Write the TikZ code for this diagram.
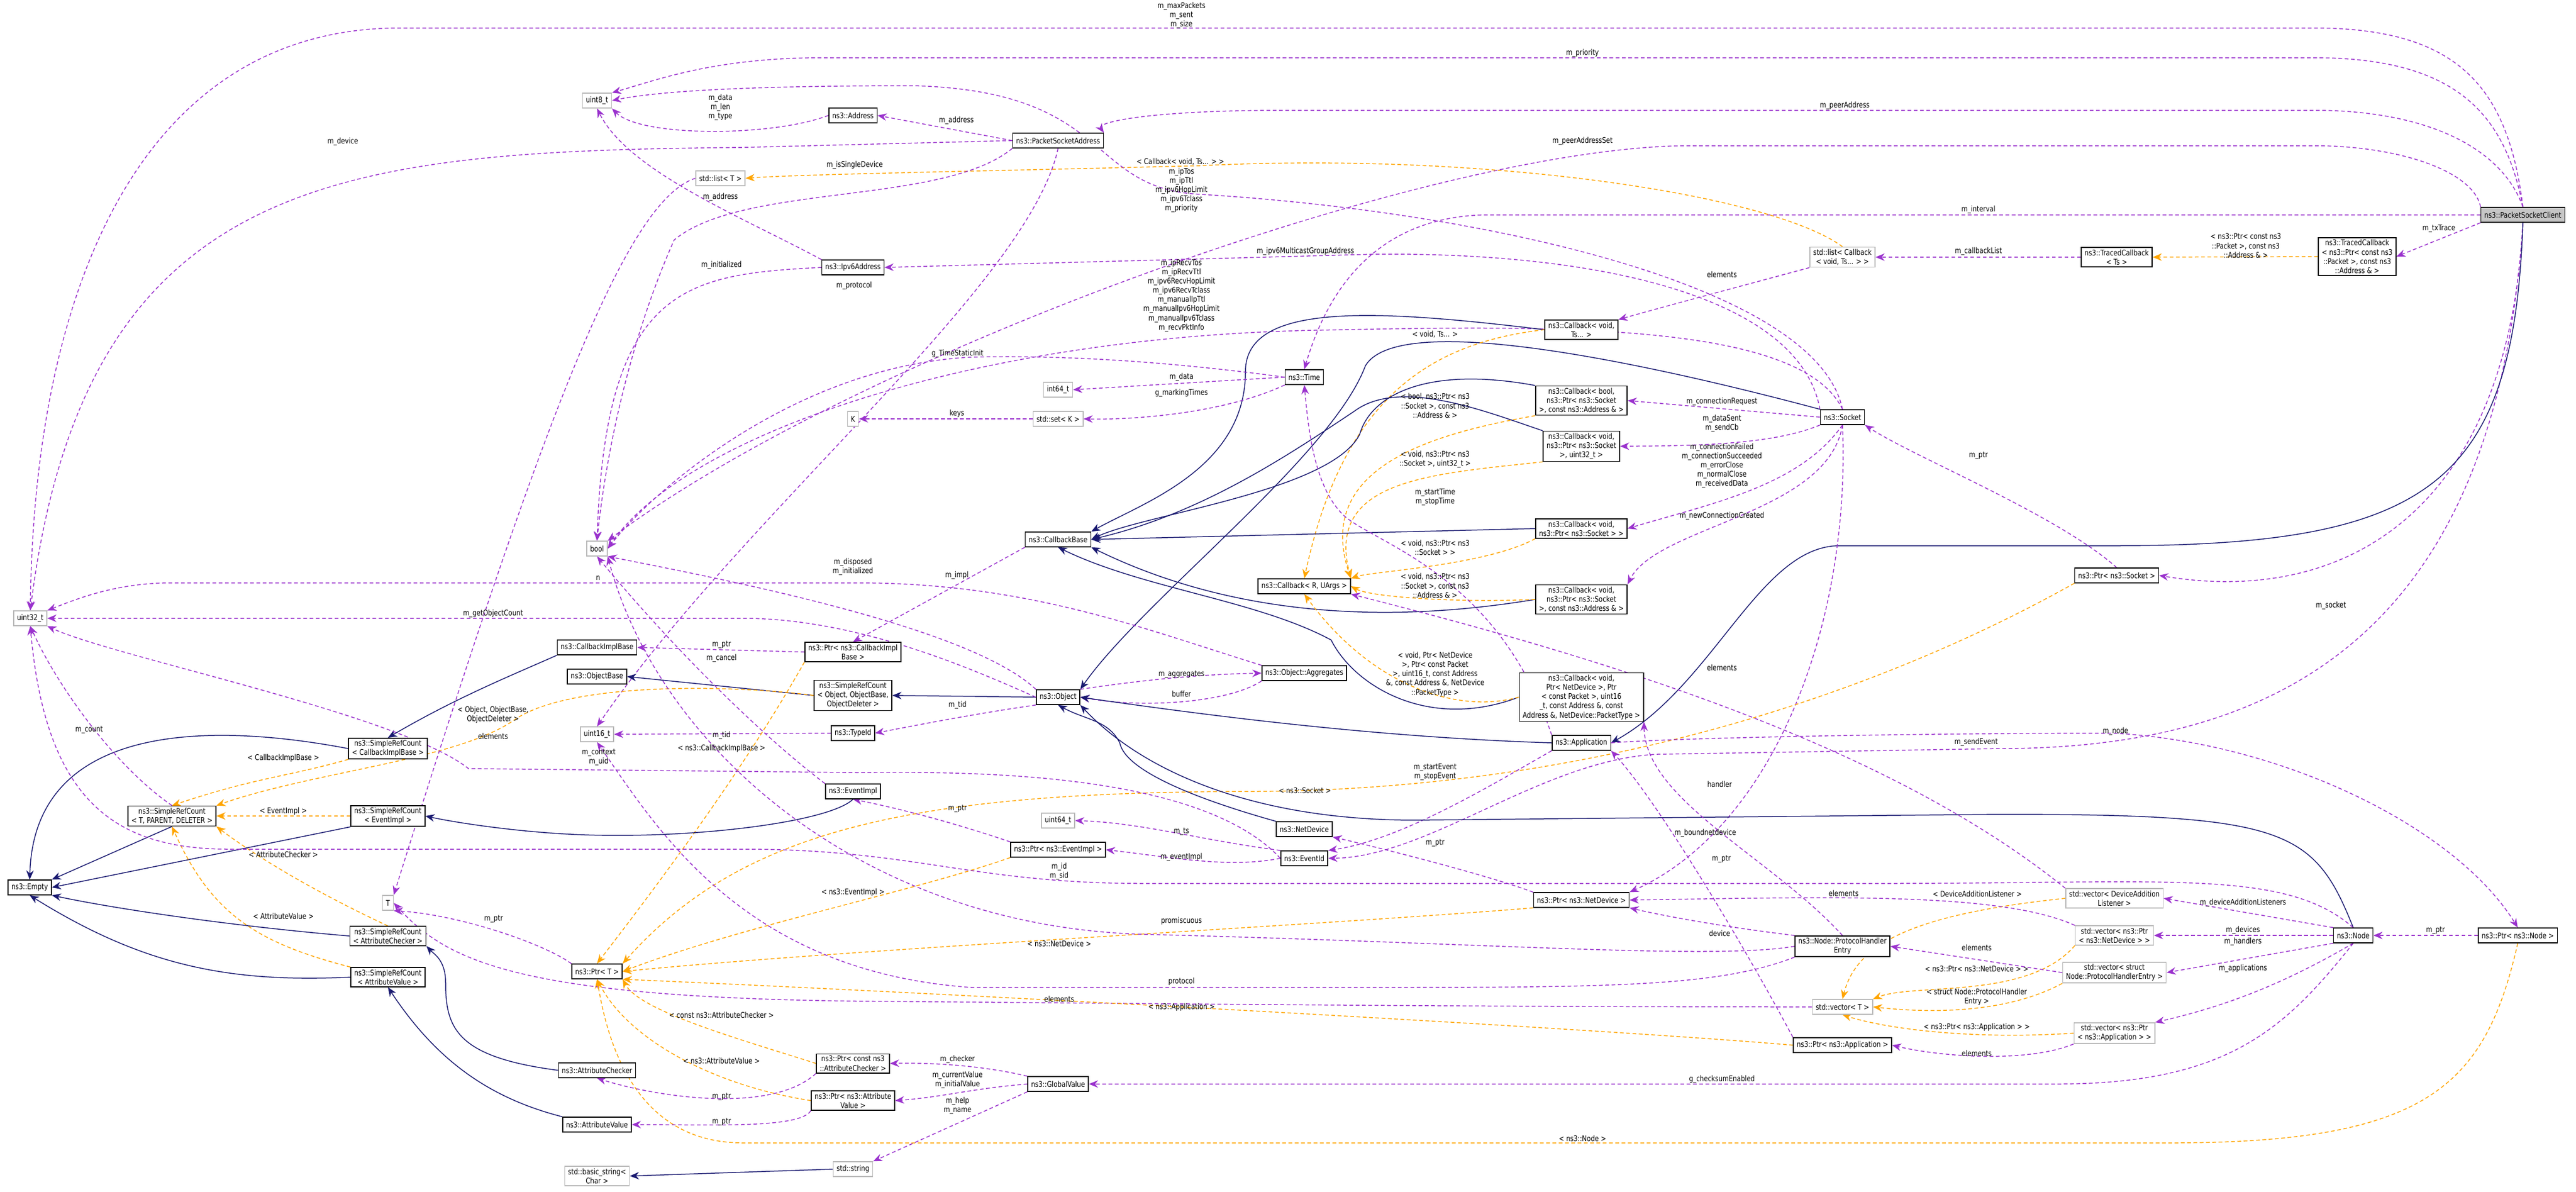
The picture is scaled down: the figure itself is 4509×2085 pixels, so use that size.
\documentclass[tikz,border=0pt]{standalone}
\usepackage{fontspec}
\setmainfont{DejaVu Sans}[FakeStretch=0.82]
\usetikzlibrary{arrows.meta}
\definecolor{dorch}{HTML}{9A32CD}
\definecolor{navyb}{HTML}{191970}
\definecolor{orng}{HTML}{FFA500}
\pgfdeclarelayer{bg}\pgfsetlayers{bg,main}
\newcommand{\fs}{\fontsize{7.8}{9.2}\selectfont}
\tikzset{
 cls/.style={draw=black, line width=0.3mm, rectangle, fill=white, inner xsep=1.2mm, inner ysep=0.7mm, align=center, minimum height=5.2mm, font=\fs},
 ext/.style={cls, draw=gray!55},
 lb/.style={font=\fs, align=center, inner sep=0.5pt},
 tip/.style={-{Stealth[length=3.2mm,width=2.6mm]}},
 use/.style={tip, draw=dorch, line width=0.3mm, dash pattern=on 1.3mm off 0.9mm},
 inh/.style={tip, draw=navyb, line width=0.3mm},
 tpl/.style={tip, draw=orng, line width=0.3mm, dash pattern=on 1.3mm off 0.9mm}
}
\begin{document}
\begin{tikzpicture}[x=0.2mm,y=-0.2mm]
\useasboundingbox (0,0) rectangle (4509,2085);
% ---------- nodes ----------
\node[cls,fill=gray!45] (psc) at (4416,376) {ns3::PacketSocketClient};
\node[cls] (tcpkt) at (4126,449) {ns3::TracedCallback\\< ns3::Ptr< const ns3\\::Packet >, const ns3\\::Address \& >};
\node[cls] (tcts) at (3705,450) {ns3::TracedCallback\\< Ts >};
\node[ext] (lcb) at (3225,450) {std::list< Callback\\< void, Ts... > >};
\node[cls] (cbts) at (2768,577) {ns3::Callback< void,\\ Ts... >};
\node[cls] (time) at (2283,660) {ns3::Time};
\node[cls] (cbbool) at (2768,701) {ns3::Callback< bool,\\ ns3::Ptr< ns3::Socket\\ >, const ns3::Address \& >};
\node[cls] (cbu32) at (2768,781) {ns3::Callback< void,\\ ns3::Ptr< ns3::Socket\\ >, uint32\_t >};
\node[cls] (socket) at (3225,730) {ns3::Socket};
\node[cls] (cbsock) at (2768,925) {ns3::Callback< void,\\ ns3::Ptr< ns3::Socket > >};
\node[cls] (cbr) at (2283,1026) {ns3::Callback< R, UArgs >};
\node[cls] (cbaddr) at (2768,1049) {ns3::Callback< void,\\ ns3::Ptr< ns3::Socket\\ >, const ns3::Address \& >};
\node[cls] (ptrsock) at (3705,1007) {ns3::Ptr< ns3::Socket >};
\node[ext] (uint8) at (1045,176) {uint8\_t};
\node[cls] (address) at (1493,202) {ns3::Address};
\node[cls] (psa) at (1852,246) {ns3::PacketSocketAddress};
\node[ext] (listT) at (1261,312) {std::list< T >};
\node[cls] (ipv6) at (1493,468) {ns3::Ipv6Address};
\node[ext] (int64) at (1852,682) {int64\_t};
\node[ext] (K) at (1493,733) {K};
\node[ext] (setK) at (1852,733) {std::set< K >};
\node[cls] (cbbase) at (1852,944) {ns3::CallbackBase};
\node[ext] (bool) at (1045,960) {bool};
\node[ext] (uint32) at (53,1082) {uint32\_t};
\node[cls] (cbimpl) at (1045,1133) {ns3::CallbackImplBase};
\node[cls] (ptrcbimpl) at (1493,1141) {ns3::Ptr< ns3::CallbackImpl\\Base >};
\node[cls] (aggr) at (2283,1178) {ns3::Object::Aggregates};
\node[cls] (objbase) at (1045,1184) {ns3::ObjectBase};
\node[cls] (srcobj) at (1493,1217) {ns3::SimpleRefCount\\< Object, ObjectBase,\\ ObjectDeleter >};
\node[cls] (object) at (1852,1220) {ns3::Object};
\node[cls] (cbnd) at (2768,1220) {ns3::Callback< void,\\ Ptr< NetDevice >, Ptr\\< const Packet >, uint16\\\_t, const Address \&, const\\ Address \&, NetDevice::PacketType >};
\node[cls] (typeid) at (1493,1283) {ns3::TypeId};
\node[ext] (uint16) at (1045,1285) {uint16\_t};
\node[cls] (app) at (2768,1300) {ns3::Application};
\node[cls] (srccib) at (679,1310) {ns3::SimpleRefCount\\< CallbackImplBase >};
\node[cls] (eventimpl) at (1493,1385) {ns3::EventImpl};
\node[cls] (srcT) at (301,1428) {ns3::SimpleRefCount\\< T, PARENT, DELETER >};
\node[cls] (srcei) at (679,1428) {ns3::SimpleRefCount\\< EventImpl >};
\node[ext] (uint64) at (1852,1436) {uint64\_t};
\node[cls] (netdev) at (2283,1451) {ns3::NetDevice};
\node[cls] (ptrei) at (1852,1487) {ns3::Ptr< ns3::EventImpl >};
\node[cls] (eventid) at (2283,1502) {ns3::EventId};
\node[cls] (empty) at (52,1553) {ns3::Empty};
\node[ext] (vdal) at (3701,1572) {std::vector< DeviceAddition\\Listener >};
\node[ext] (T) at (679,1580) {T};
\node[cls] (ptrnd) at (2768,1575) {ns3::Ptr< ns3::NetDevice >};
\node[cls] (node) at (4119,1637) {ns3::Node};
\node[cls] (ptrnode) at (4407,1637) {ns3::Ptr< ns3::Node >};
\node[ext] (vnd) at (3701,1637) {std::vector< ns3::Ptr\\< ns3::NetDevice > >};
\node[cls] (srcac) at (679,1638) {ns3::SimpleRefCount\\< AttributeChecker >};
\node[cls] (phe) at (3225,1656) {ns3::Node::ProtocolHandler\\Entry};
\node[cls] (ptrT) at (1045,1700) {ns3::Ptr< T >};
\node[ext] (vphe) at (3701,1702) {std::vector< struct\\ Node::ProtocolHandlerEntry >};
\node[cls] (srcav) at (679,1710) {ns3::SimpleRefCount\\< AttributeValue >};
\node[ext] (vT) at (3225,1762) {std::vector< T >};
\node[ext] (vapp) at (3701,1808) {std::vector< ns3::Ptr\\< ns3::Application > >};
\node[cls] (ptrapp) at (3225,1829) {ns3::Ptr< ns3::Application >};
\node[cls] (ptrcac) at (1493,1861) {ns3::Ptr< const ns3\\::AttributeChecker >};
\node[cls] (acheck) at (1045,1873) {ns3::AttributeChecker};
\node[cls] (gv) at (1852,1897) {ns3::GlobalValue};
\node[cls] (ptrav) at (1493,1926) {ns3::Ptr< ns3::Attribute\\Value >};
\node[cls] (aval) at (1045,1968) {ns3::AttributeValue};
\node[ext] (string) at (1493,2046) {std::string};
\node[ext] (bstring) at (1045,2058) {std::basic\_string<\\ Char >};
% ---------- edges ----------
\begin{pgfonlayer}{bg}
% PacketSocketClient members
\draw[use] (psc.north) .. controls (4390,150) and (4300,49) .. (4050,49) -- (700,49) .. controls (250,49) and (60,500) .. (uint32.north);
\draw[use] (psc.north) .. controls (4385,200) and (4300,101) .. (4050,101) -- (1440,101) .. controls (1250,101) and (1150,140) .. (uint8.north east);
\draw[use] (psc.north) .. controls (4380,260) and (4250,193) .. (4050,193) -- (2250,193) .. controls (2000,193) and (1920,215) .. (psa.north east);
\draw[use] (psc.north west) .. controls (4330,300) and (4200,255) .. (4050,255) -- (2950,255) .. controls (2500,260) and (1500,620) .. (bool.north east);
\draw[use] (psc.west) -- (2600,376) .. controls (2400,380) and (2320,520) .. (time.north);
\draw[use] (psc.south west) -- (tcpkt.east);
\draw[use] (psc.south) .. controls (4390,900) and (4100,1060) .. (ptrsock.east);
\draw[use] (psc.south) .. controls (4370,1100) and (4000,1310) .. (3500,1310) -- (2900,1320) .. controls (2700,1330) and (2500,1500) .. (eventid.east);
\draw[inh] (psc.south) .. controls (4400,850) and (4250,955) .. (3700,955) -- (3220,955) .. controls (3080,955) and (3000,1200) .. (app.east);
% traced callbacks
\draw[tpl] (tcpkt.west) -- (tcts.east);
\draw[use] (tcts.west) -- (lcb.east);
\draw[tpl] (lcb.north) .. controls (3100,340) and (2600,265) .. (2100,290) .. controls (1700,300) and (1400,305) .. (listT.east);
\draw[use] (lcb.south west) .. controls (3050,500) and (2900,540) .. (cbts.north east);
% socket
\draw[use] (socket.north) .. controls (3180,500) and (2600,370) .. (2100,340) .. controls (1900,330) and (1950,160) .. (1600,150) .. controls (1300,150) and (1150,160) .. (uint8.east);
\draw[use] (socket.north west) .. controls (3150,520) and (2800,440) .. (2400,445) -- (ipv6.east);
\draw[use] (socket.north) .. controls (3150,560) and (2700,570) .. (2300,578) .. controls (1700,590) and (1200,760) .. (bool.east);
\draw[use] (socket.west) -- (cbbool.east);
\draw[use] (socket.south west) .. controls (3100,780) and (2950,780) .. (cbu32.east);
\draw[use] (socket.south) .. controls (3150,850) and (3000,880) .. (cbsock.east);
\draw[use] (socket.south) .. controls (3200,900) and (2900,920) .. (cbaddr.north east);
\draw[inh] (socket.north west) .. controls (2900,640) and (2450,540) .. (2390,640) .. controls (2330,800) and (2000,1050) .. (object.north east);
\draw[use] (socket.south) .. controls (3240,1100) and (3100,1450) .. (ptrnd.north east);
\draw[use] (ptrsock.north) .. controls (3600,900) and (3350,800) .. (socket.south east);
\draw[tpl] (ptrsock.south west) .. controls (3400,1150) and (2900,1380) .. (2200,1385) .. controls (1600,1385) and (1300,1450) .. (ptrT.north east);
% callbacks
\draw[inh] (cbts.west) .. controls (2400,540) and (2180,530) .. (2180,650) .. controls (2180,820) and (2000,880) .. (cbbase.north east);
\draw[tpl] (cbts.west) .. controls (2500,600) and (2350,700) .. (cbr.north);
\draw[inh] (cbbool.north west) .. controls (2500,640) and (2400,690) .. (2380,760) .. controls (2330,860) and (2000,900) .. (cbbase.east);
\draw[tpl] (cbbool.south west) .. controls (2500,760) and (2300,820) .. (cbr.north east);
\draw[inh] (cbu32.north west) .. controls (2600,720) and (2450,660) .. (2370,720) .. controls (2250,800) and (2100,900) .. (cbbase.east);
\draw[tpl] (cbu32.south west) .. controls (2500,830) and (2320,840) .. (cbr.north east);
\draw[inh] (cbsock.west) -- (cbbase.east);
\draw[tpl] (cbsock.south west) .. controls (2600,990) and (2400,1000) .. (cbr.north east);
\draw[inh] (cbaddr.west) .. controls (2500,1080) and (2200,1100) .. (cbbase.south east);
\draw[tpl] (cbaddr.west) .. controls (2550,1055) and (2400,1045) .. (cbr.east);
\draw[inh] (cbnd.west) .. controls (2500,1280) and (2370,1200) .. (2330,1120) .. controls (2200,1050) and (2000,1030) .. (cbbase.south);
\draw[tpl] (cbnd.west) .. controls (2550,1250) and (2400,1200) .. (cbr.south);
\draw[use] (cbbase.south west) -- (ptrcbimpl.north);
% addresses, time
\draw[use] (address.west) .. controls (1350,240) and (1120,240) .. (uint8.south east);
\draw[use] (psa.west) -- (address.east);
\draw[use] (psa.west) -- (1300,258) .. controls (600,265) and (150,300) .. (uint32.north);
\draw[use] (psa.south west) .. controls (1650,360) and (1300,320) .. (1180,420) .. controls (1100,600) and (1060,800) .. (bool.north);
\draw[use] (psa.south) .. controls (1800,500) and (1300,900) .. (uint16.north);
\draw[use] (ipv6.north west) .. controls (1300,380) and (1100,300) .. (uint8.south);
\draw[use] (ipv6.west) .. controls (1200,480) and (1060,500) .. (bool.north);
\draw[use] (listT.west) .. controls (1100,350) and (960,700) .. (T.north east);
\draw[use] (time.west) -- (int64.east);
\draw[use] (time.south west) .. controls (2150,720) and (2000,735) .. (setK.east);
\draw[use] (time.west) .. controls (2100,640) and (1900,620) .. (1700,625) .. controls (1400,640) and (1150,850) .. (bool.east);
\draw[use] (setK.west) -- (K.east);
% object family
\draw[inh] (object.west) -- (srcobj.east);
\draw[use] (object.north east) .. controls (2000,1190) and (2100,1180) .. (aggr.west);
\draw[use] (aggr.south west) .. controls (2150,1230) and (2000,1240) .. (object.east);
\draw[use] (object.south west) .. controls (1700,1250) and (1600,1270) .. (typeid.east);
\draw[use] (object.north west) .. controls (1700,1100) and (1300,1020) .. (bool.south east);
\draw[use] (object.west) .. controls (1700,1170) and (1500,1082) .. (1300,1082) -- (uint32.east);
\draw[use] (aggr.north west) .. controls (2000,1100) and (1800,1020) .. (1500,1020) -- (300,1020) .. controls (200,1020) and (130,1050) .. (uint32.north east);
\draw[inh] (srcobj.west) -- (objbase.east);
\draw[tpl] (srcobj.west) .. controls (1300,1200) and (1000,1190) .. (900,1260) .. controls (800,1330) and (550,1350) .. (srcT.north east);
\draw[use] (typeid.west) -- (uint16.east);
\draw[use] (ptrcbimpl.west) -- (cbimpl.east);
\draw[tpl] (ptrcbimpl.south west) .. controls (1300,1350) and (1150,1550) .. (ptrT.north);
\draw[inh] (cbimpl.south west) .. controls (900,1180) and (800,1220) .. (srccib.north);
\draw[tpl] (srccib.south west) .. controls (500,1360) and (450,1360) .. (srcT.north);
\draw[inh] (srccib.west) .. controls (400,1270) and (60,1250) .. (empty.north);
\draw[inh] (srcT.south) -- (empty.north east);
\draw[use] (srcT.north) .. controls (200,1340) and (100,1200) .. (uint32.south);
\draw[tpl] (srcei.west) -- (srcT.east);
\draw[inh] (srcei.south west) -- (empty.east);
\draw[inh] (eventimpl.south) .. controls (1450,1440) and (1200,1470) .. (1000,1460) .. controls (900,1455) and (800,1440) .. (srcei.east);
\draw[use] (eventimpl.north west) .. controls (1350,1300) and (1200,1160) .. (bool.south);
\draw[tpl] (srcac.north) .. controls (550,1560) and (450,1500) .. (srcT.south east);
\draw[inh] (srcac.west) .. controls (400,1620) and (200,1590) .. (empty.south east);
\draw[tpl] (srcav.north west) .. controls (450,1650) and (370,1600) .. (srcT.south);
\draw[inh] (srcav.west) .. controls (400,1720) and (250,1690) .. (empty.south);
\draw[use] (eventid.west) .. controls (2100,1350) and (1700,1350) .. (1500,1352) -- (820,1345) .. controls (700,1250) and (200,1150) .. (uint32.south east);
\draw[use] (eventid.north west) .. controls (2100,1470) and (2000,1440) .. (uint64.east);
\draw[use] (eventid.west) .. controls (2150,1520) and (2050,1500) .. (ptrei.east);
\draw[use] (ptrei.north west) .. controls (1700,1450) and (1600,1420) .. (eventimpl.south);
\draw[tpl] (ptrei.south west) .. controls (1600,1560) and (1300,1620) .. (ptrT.east);
\draw[inh] (netdev.north west) .. controls (2100,1400) and (1970,1350) .. (1960,1300) .. controls (1940,1260) and (1900,1260) .. (object.south);
\draw[use] (ptrnd.north west) .. controls (2600,1530) and (2400,1480) .. (netdev.south east);
\draw[tpl] (ptrnd.south west) .. controls (2300,1620) and (1500,1660) .. (ptrT.east);
% application
\draw[inh] (app.west) .. controls (2400,1290) and (2100,1250) .. (object.east);
\draw[use] (app.south west) .. controls (2600,1380) and (2450,1470) .. (eventid.north east);
\draw[use] (app.north west) .. controls (2620,1000) and (2400,950) .. (2350,900) .. controls (2300,850) and (2290,750) .. (time.south);
\draw[use] (app.east) .. controls (2950,1290) and (3400,1283) .. (3700,1283) .. controls (4000,1300) and (4300,1450) .. (ptrnode.north);
% node
\draw[inh] (node.north) .. controls (4050,1450) and (4000,1425) .. (3500,1425) -- (2500,1435) .. controls (2200,1440) and (2000,1350) .. (object.south east);
\draw[use] (node.north west) -- (vdal.east);
\draw[use] (node.west) -- (vnd.east);
\draw[use] (node.south west) -- (vphe.east);
\draw[use] (node.south) .. controls (4000,1720) and (3900,1760) .. (vapp.north east);
\draw[use] (node.north) .. controls (4000,1520) and (3800,1546) .. (3300,1546) -- (2000,1546) .. controls (1700,1546) and (1600,1486) .. (1300,1486) -- (400,1486) .. controls (200,1486) and (80,1400) .. (uint32.south);
\draw[use] (node.south) .. controls (4000,1800) and (3900,1897) .. (3600,1897) -- (gv.east);
\draw[use] (ptrnode.west) -- (node.east);
\draw[tpl] (ptrnode.south) .. controls (4350,1900) and (4250,2000) .. (3800,2000) -- (1300,2000) .. controls (1100,2000) and (1060,1800) .. (ptrT.south);
% protocol handler and vectors
\draw[use] (phe.north west) .. controls (3000,1620) and (2900,1600) .. (ptrnd.south east);
\draw[use] (phe.west) .. controls (3000,1680) and (2600,1650) .. (2000,1635) .. controls (1500,1620) and (1150,1300) .. (bool.south east);
\draw[use] (phe.south west) .. controls (3000,1730) and (2800,1728) .. (2300,1728) -- (1700,1728) .. controls (1300,1700) and (1150,1450) .. (uint16.south);
\draw[use] (phe.north) .. controls (3100,1500) and (2880,1400) .. (cbnd.south east);
\draw[use] (vdal.north west) .. controls (3300,1300) and (2800,1150) .. (cbr.south east);
\draw[tpl] (vdal.west) .. controls (3350,1600) and (3250,1650) .. (vT.north);
\draw[use] (vnd.north west) .. controls (3500,1560) and (3200,1570) .. (ptrnd.east);
\draw[tpl] (vnd.south west) .. controls (3550,1750) and (3350,1720) .. (vT.north east);
\draw[use] (vphe.west) -- (phe.east);
\draw[tpl] (vphe.south west) .. controls (3500,1780) and (3350,1770) .. (vT.east);
\draw[use] (vapp.south west) .. controls (3550,1860) and (3400,1850) .. (ptrapp.east);
\draw[tpl] (vapp.west) .. controls (3450,1820) and (3300,1800) .. (vT.south);
\draw[use] (vT.west) .. controls (2500,1762) and (1900,1755) .. (1500,1752) .. controls (900,1745) and (780,1680) .. (T.east);
\draw[use] (ptrapp.north west) .. controls (3050,1650) and (2900,1400) .. (app.south east);
\draw[tpl] (ptrapp.west) .. controls (2800,1800) and (1700,1740) .. (ptrT.south east);
% pointers and attributes
\draw[use] (ptrT.north west) .. controls (950,1650) and (800,1600) .. (T.south east);
\draw[use] (ptrcac.south west) .. controls (1350,1950) and (1150,1920) .. (acheck.south);
\draw[tpl] (ptrcac.west) .. controls (1300,1820) and (1120,1770) .. (ptrT.south east);
\draw[use] (ptrav.south west) .. controls (1400,1975) and (1250,1968) .. (aval.east);
\draw[tpl] (ptrav.west) .. controls (1250,1900) and (1100,1820) .. (ptrT.south);
\draw[inh] (acheck.west) .. controls (800,1850) and (780,1800) .. (780,1720) .. controls (780,1680) and (760,1670) .. (srcac.south east);
\draw[inh] (aval.north west) .. controls (850,1920) and (760,1850) .. (srcav.south);
\draw[use] (gv.north west) .. controls (1700,1860) and (1600,1860) .. (ptrcac.east);
\draw[use] (gv.west) .. controls (1700,1905) and (1650,1920) .. (ptrav.east);
\draw[use] (gv.south west) -- (string.north east);
\draw[inh] (string.west) -- (bstring.east);
\end{pgfonlayer}
% ---------- labels ----------
\node[lb] (l1) at (2068,27) {m\_maxPackets\\m\_sent\\m\_size};
\node[lb] (l2) at (2770,93) {m\_priority};
\node[lb] (l3) at (3229,185) {m\_peerAddress};
\node[lb] (l4) at (2770,247) {m\_peerAddressSet};
\node[lb] (l5) at (3463,367) {m\_interval};
\node[lb] (l6) at (4269,400) {m\_txTrace};
\node[lb] (l7) at (3931,430) {< ns3::Ptr< const ns3\\::Packet >, const ns3\\::Address \& >};
\node[lb] (l8) at (3463,440) {m\_callbackList};
\node[lb] (l9) at (2066,283) {< Callback< void, Ts... > >};
\node[lb] (l10) at (2068,333) {m\_ipTos\\m\_ipTtl\\m\_ipv6HopLimit\\m\_ipv6Tclass\\m\_priority};
\node[lb] (l11) at (1261,188) {m\_data\\m\_len\\m\_type};
\node[lb] (l12) at (1674,211) {m\_address};
\node[lb] (l13) at (1496,289) {m\_isSingleDevice};
\node[lb] (l14) at (1261,345) {m\_address};
\node[lb] (l15) at (600,248) {m\_device};
\node[lb] (l16) at (2285,440) {m\_ipv6MulticastGroupAddress};
\node[lb] (l17) at (1263,464) {m\_initialized};
\node[lb] (l18) at (1495,500) {m\_protocol};
\node[lb] (l19) at (2068,517) {m\_ipRecvTos\\m\_ipRecvTtl\\m\_ipv6RecvHopLimit\\m\_ipv6RecvTclass\\m\_manualIpTtl\\m\_manualIpv6HopLimit\\m\_manualIpv6Tclass\\m\_recvPktInfo};
\node[lb] (l20) at (3014,480) {elements};
\node[lb] (l21) at (2512,585) {< void, Ts... >};
\node[lb] (l22) at (1676,619) {g\_TimeStaticInit};
\node[lb] (l23) at (2068,660) {m\_data};
\node[lb] (l24) at (2068,688) {g\_markingTimes};
\node[lb] (l25) at (1675,724) {keys};
\node[lb] (l26) at (3014,703) {m\_connectionRequest};
\node[lb] (l27) at (2512,710) {< bool, ns3::Ptr< ns3\\::Socket >, const ns3\\::Address \& >};
\node[lb] (l28) at (3014,741) {m\_dataSent\\m\_sendCb};
\node[lb] (l29) at (3463,797) {m\_ptr};
\node[lb] (l30) at (2512,804) {< void, ns3::Ptr< ns3\\::Socket >, uint32\_t >};
\node[lb] (l31) at (3014,815) {m\_connectionFailed\\m\_connectionSucceeded\\m\_errorClose\\m\_normalClose\\m\_receivedData};
\node[lb] (l32) at (2512,870) {m\_startTime\\m\_stopTime};
\node[lb] (l33) at (3014,903) {m\_newConnectionCreated};
\node[lb] (l34) at (2512,958) {< void, ns3::Ptr< ns3\\::Socket > >};
\node[lb] (l35) at (1493,992) {m\_disposed\\m\_initialized};
\node[lb] (l36) at (1675,1007) {m\_impl};
\node[lb] (l37) at (1047,1012) {n};
\node[lb] (l38) at (2512,1025) {< void, ns3::Ptr< ns3\\::Socket >, const ns3\\::Address \& >};
\node[lb] (l39) at (4080,1060) {m\_socket};
\node[lb] (l40) at (863,1074) {m\_getObjectCount};
\node[lb] (l41) at (1263,1128) {m\_ptr};
\node[lb] (l42) at (1263,1152) {m\_cancel};
\node[lb] (l43) at (3014,1168) {elements};
\node[lb] (l44) at (2068,1180) {m\_aggregates};
\node[lb] (l45) at (2512,1180) {< void, Ptr< NetDevice\\ >, Ptr< const Packet\\ >, uint16\_t, const Address\\ \&, const Address \&, NetDevice\\ ::PacketType >};
\node[lb] (l46) at (2068,1214) {buffer};
\node[lb] (l47) at (1676,1234) {m\_tid};
\node[lb] (l48) at (863,1251) {< Object, ObjectBase,\\ ObjectDeleter >};
\node[lb] (l49) at (156,1277) {m\_count};
\node[lb] (l50) at (1263,1287) {m\_tid};
\node[lb] (l51) at (863,1288) {elements};
\node[lb] (l52) at (3703,1280) {m\_node};
\node[lb] (l53) at (3459,1299) {m\_sendEvent};
\node[lb] (l54) at (1263,1310) {< ns3::CallbackImplBase >};
\node[lb] (l55) at (1048,1325) {m\_context\\m\_uid};
\node[lb] (l56) at (496,1327) {< CallbackImplBase >};
\node[lb] (l57) at (2512,1351) {m\_startEvent\\m\_stopEvent};
\node[lb] (l58) at (3010,1372) {handler};
\node[lb] (l59) at (2284,1383) {< ns3::Socket >};
\node[lb] (l60) at (1676,1415) {m\_ptr};
\node[lb] (l61) at (496,1420) {< EventImpl >};
\node[lb] (l62) at (2068,1455) {m\_ts};
\node[lb] (l63) at (2985,1458) {m\_boundnetdevice};
\node[lb] (l64) at (2512,1475) {m\_ptr};
\node[lb] (l65) at (496,1495) {< AttributeChecker >};
\node[lb] (l66) at (2068,1500) {m\_eventImpl};
\node[lb] (l67) at (3013,1503) {m\_ptr};
\node[lb] (l68) at (1854,1525) {m\_id\\m\_sid};
\node[lb] (l69) at (1493,1562) {< ns3::EventImpl >};
\node[lb] (l70) at (3227,1563) {elements};
\node[lb] (l71) at (3461,1564) {< DeviceAdditionListener >};
\node[lb] (l72) at (3926,1580) {m\_deviceAdditionListeners};
\node[lb] (l73) at (496,1603) {< AttributeValue >};
\node[lb] (l74) at (864,1608) {m\_ptr};
\node[lb] (l75) at (2068,1612) {promiscuous};
\node[lb] (l76) at (3926,1628) {m\_devices};
\node[lb] (l77) at (4263,1628) {m\_ptr};
\node[lb] (l78) at (3010,1633) {device};
\node[lb] (l79) at (1854,1651) {< ns3::NetDevice >};
\node[lb] (l80) at (3926,1648) {m\_handlers};
\node[lb] (l81) at (3460,1658) {elements};
\node[lb] (l82) at (3460,1695) {< ns3::Ptr< ns3::NetDevice > >};
\node[lb] (l83) at (3926,1695) {m\_applications};
\node[lb] (l84) at (2068,1718) {protocol};
\node[lb] (l85) at (3460,1745) {< struct Node::ProtocolHandler\\Entry >};
\node[lb] (l86) at (1854,1748) {elements};
\node[lb] (l87) at (2068,1763) {< ns3::Application >};
\node[lb] (l88) at (1263,1776) {< const ns3::AttributeChecker >};
\node[lb] (l89) at (3460,1798) {< ns3::Ptr< ns3::Application > >};
\node[lb] (l90) at (3460,1843) {elements};
\node[lb] (l91) at (1676,1854) {m\_checker};
\node[lb] (l92) at (1263,1856) {< ns3::AttributeValue >};
\node[lb] (l93) at (1676,1890) {m\_currentValue\\m\_initialValue};
\node[lb] (l94) at (3014,1889) {g\_checksumEnabled};
\node[lb] (l95) at (1263,1919) {m\_ptr};
\node[lb] (l96) at (1676,1935) {m\_help\\m\_name};
\node[lb] (l97) at (1263,1963) {m\_ptr};
\node[lb] (l98) at (2770,1992) {< ns3::Node >};
\end{tikzpicture}
\end{document}
